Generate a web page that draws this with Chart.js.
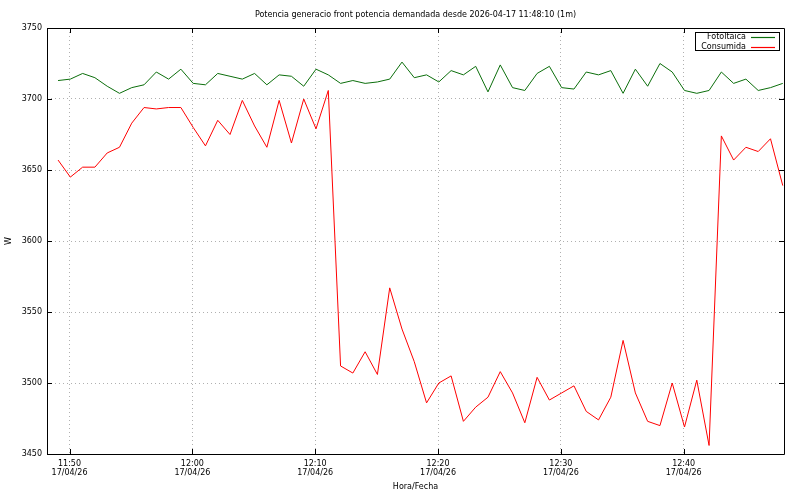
<!DOCTYPE html>
<html>
<head>
<meta charset="utf-8">
<script src="https://cdn.jsdelivr.net/npm/chart.js@4.4.1/dist/chart.umd.min.js"></script>
<style>
  body { margin: 0; background: #fff; }
  #wrap { width: 800px; height: 494px; }
</style>
</head>
<body>
<div id="wrap"><canvas id="potenciaChart" width="800" height="494"></canvas></div>
<script>
// sample times (one per minute)
const times = [
    "11:49", "11:50", "11:51", "11:52", "11:53", "11:54", "11:55", "11:56", "11:57", "11:58",
    "11:59", "12:00", "12:01", "12:02", "12:03", "12:04", "12:05", "12:06", "12:07", "12:08",
    "12:09", "12:10", "12:11", "12:12", "12:13", "12:14", "12:15", "12:16", "12:17", "12:18",
    "12:19", "12:20", "12:21", "12:22", "12:23", "12:24", "12:25", "12:26", "12:27", "12:28",
    "12:29", "12:30", "12:31", "12:32", "12:33", "12:34", "12:35", "12:36", "12:37", "12:38",
    "12:39", "12:40", "12:41", "12:42", "12:43", "12:44", "12:45", "12:46", "12:47", "12:48"
];
const fotoltaica = [
    3713, 3714, 3718, 3715, 3709, 3704, 3708, 3710, 3719, 3714,
    3721, 3711, 3710, 3718, 3716, 3714, 3718, 3710, 3717, 3716,
    3709, 3721, 3717, 3711, 3713, 3711, 3712, 3714, 3726, 3715,
    3717, 3712, 3720, 3717, 3723, 3705, 3724, 3708, 3706, 3718,
    3723, 3708, 3707, 3719, 3717, 3720, 3704, 3721, 3709, 3725,
    3719, 3706, 3704, 3706, 3719, 3711, 3714, 3706, 3708, 3711
];
const consumida = [
    3657, 3645, 3652, 3652, 3662, 3666, 3683, 3694, 3693, 3694,
    3694, 3680, 3667, 3685, 3675, 3699, 3681, 3666, 3699, 3669,
    3700, 3679, 3706, 3512, 3507, 3522, 3506, 3567, 3538, 3515,
    3486, 3500, 3505, 3473, 3483, 3490, 3508, 3493, 3472, 3504,
    3488, 3493, 3498, 3480, 3474, 3490, 3530, 3493, 3473, 3470,
    3500, 3469, 3502, 3456, 3674, 3657, 3666, 3663, 3672, 3639
];
const xTicks = ["11:50", "12:00", "12:10", "12:20", "12:30", "12:40"];
const yTicks = [3450, 3500, 3550, 3600, 3650, 3700, 3750];
const fecha = "17/04/26";
const startTime = "11:48:10";
const endTime = "12:48:10";

const FONT = "DejaVu Sans";
const GREEN = "#0b6e0b";
const RED = "#ff0000";

function toMin(t) {
    let p = t.split(":").map(Number);
    return p[0] * 60 + p[1] + (p[2] || 0) / 60;
}
function fmt(m) {
    let h = Math.floor(m / 60), mm = Math.round(m - h * 60);
    return h + ":" + String(mm).padStart(2, "0");
}

// samples are taken a few seconds after the minute
const xs = times.map(t => toMin(t) + 4 / 60);

// gnuplot-like frame, ticks, title, legend
const gnuplotLook = {
    id: "gnuplotLook",
    afterDraw(chart) {
        const ctx = chart.ctx;
        const a = chart.chartArea;
        const sx = chart.scales.x, sy = chart.scales.y;
        ctx.save();
        ctx.strokeStyle = "#000";
        ctx.lineWidth = 1;
        ctx.beginPath();
        ctx.rect(Math.round(a.left) + 0.5, Math.round(a.top) + 0.5,
            Math.round(a.right - a.left), Math.round(a.bottom - a.top));
        // inward ticks, mirrored
        yTicks.forEach(v => {
            let y = Math.round(sy.getPixelForValue(v)) + 0.5;
            ctx.moveTo(a.left, y); ctx.lineTo(a.left + 5, y);
            ctx.moveTo(a.right, y); ctx.lineTo(a.right - 5, y);
        });
        xTicks.forEach(t => {
            let x = Math.round(sx.getPixelForValue(toMin(t))) + 0.5;
            ctx.moveTo(x, a.bottom); ctx.lineTo(x, a.bottom - 5);
            ctx.moveTo(x, a.top); ctx.lineTo(x, a.top + 5);
        });
        ctx.stroke();

        ctx.fillStyle = "#000";
        ctx.font = "8px " + FONT;
        ctx.textBaseline = "middle";
        ctx.textAlign = "center";
        ctx.fillText("Potencia generacio front potencia demandada desde 2026-04-17 " + startTime + " (1m)",
            (a.left + a.right) / 2, 15);
        ctx.fillText("Hora/Fecha", (a.left + a.right) / 2, 487);
        ctx.save();
        ctx.translate(9, (a.top + a.bottom) / 2);
        ctx.rotate(-Math.PI / 2);
        ctx.fillText("W", 0, 0);
        ctx.restore();

        // legend box
        const lx = 695.5, ly = 32.5, lw = 84, lh = 18;
        ctx.strokeStyle = "#000";
        ctx.strokeRect(lx, ly, lw, lh);
        ctx.textAlign = "right";
        [["Fotoltaica", GREEN], ["Consumida", RED]].forEach((e, i) => {
            let y = 37 + i * 9.5;
            ctx.fillStyle = "#000";
            ctx.fillText(e[0], 746, y);
            ctx.strokeStyle = e[1];
            ctx.lineWidth = 1.2;
            ctx.beginPath();
            ctx.moveTo(751, Math.round(y) + 0.5);
            ctx.lineTo(775, Math.round(y) + 0.5);
            ctx.stroke();
        });
        ctx.restore();
    }
};

new Chart(document.getElementById("potenciaChart"), {
    type: "line",
    data: {
        datasets: [
            {
                label: "Fotoltaica",
                data: xs.map((x, i) => ({ x: x, y: fotoltaica[i] })),
                borderColor: GREEN,
                borderWidth: 1,
                pointRadius: 0,
                tension: 0,
            },
            {
                label: "Consumida",
                data: xs.map((x, i) => ({ x: x, y: consumida[i] })),
                borderColor: RED,
                borderWidth: 1,
                pointRadius: 0,
                tension: 0,
            },
        ],
    },
    options: {
        responsive: false,
        animation: false,
        layout: { padding: { top: 28, right: 16, left: 0, bottom: 0 } },
        plugins: {
            legend: { display: false },
            tooltip: { enabled: false },
        },
        scales: {
            x: {
                type: "linear",
                min: toMin(startTime),
                max: toMin(endTime),
                afterBuildTicks: (s) => { s.ticks = xTicks.map(t => ({ value: toMin(t) })); },
                afterFit: (s) => { s.height = 40; },
                grid: { color: "#b0b0b0", lineWidth: 1, drawTicks: false },
                border: { display: false, dash: [1, 3] },
                ticks: {
                    color: "#000",
                    font: { family: FONT, size: 8, lineHeight: 1.15 },
                    padding: 5,
                    maxRotation: 0,
                    callback: (v) => [fmt(v), fecha],
                },
            },
            y: {
                min: 3450,
                max: 3750,
                afterBuildTicks: (s) => { s.ticks = yTicks.map(v => ({ value: v })); },
                afterFit: (s) => { s.width = 47; },
                grid: { color: "#b0b0b0", lineWidth: 1, drawTicks: false },
                border: { display: false, dash: [1, 3] },
                ticks: {
                    color: "#000",
                    font: { family: FONT, size: 8 },
                    padding: 5,
                    callback: (v) => String(v),
                },
            },
        },
    },
    plugins: [gnuplotLook],
});
</script>
</body>
</html>
